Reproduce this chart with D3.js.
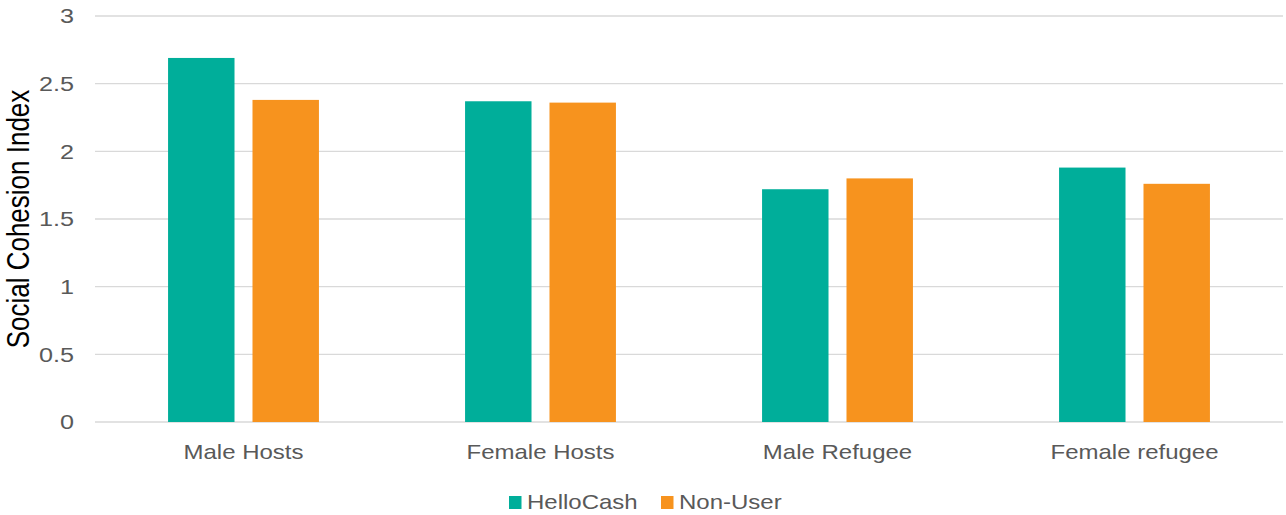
<!DOCTYPE html>
<html>
<head>
<meta charset="utf-8">
<script src="https://cdn.jsdelivr.net/npm/d3@7"></script>
<style>
  body { margin: 0; background: #fff; }
  svg text { font-family: "Liberation Sans", Arial, sans-serif; }
</style>
</head>
<body>
<div id="chart"></div>
<script>
// Chart data
const categories = ["Male Hosts", "Female Hosts", "Male Refugee", "Female refugee"];
const seriesNames = ["HelloCash", "Non-User"];
const helloCash = [2.69, 2.37, 1.72, 1.88];
const nonUser = [2.38, 2.36, 1.80, 1.76];
const yTicks = [0, 0.5, 1, 1.5, 2, 2.5, 3];
const colors = ["#00AE9A", "#F7931E"];

// Set dimensions and margins
const totalWidth = 1286, totalHeight = 515;
const margin = { top: 16, right: 3, bottom: 93, left: 95 };
const width = totalWidth - margin.left - margin.right;
const height = totalHeight - margin.top - margin.bottom;
const stretch = 1.2; // text in the original is drawn a bit wider than tall

const svg = d3.select("#chart")
  .append("svg")
    .attr("width", totalWidth)
    .attr("height", totalHeight)
  .append("g")
    .attr("transform", `translate(${margin.left},${margin.top})`);

// Scales
const x0 = d3.scaleBand().domain(categories).range([0, width]).padding(0);
const groupW = x0.bandwidth() * 0.508;
const x1 = d3.scaleBand().domain(seriesNames)
  .range([(x0.bandwidth() - groupW) / 2, (x0.bandwidth() + groupW) / 2])
  .paddingInner(0.213);
const y = d3.scaleLinear().domain([0, 3]).range([height, 0]);
const color = d3.scaleOrdinal().domain(seriesNames).range(colors);

// Gridlines
svg.append("g")
  .selectAll("line")
  .data(yTicks)
  .enter().append("line")
    .attr("x1", 0)
    .attr("x2", width)
    .attr("y1", d => y(d))
    .attr("y2", d => y(d))
    .attr("stroke", "#d9d9d9")
    .attr("stroke-width", 1.3);

// Y axis labels
const yAxis = svg.append("g")
  .call(d3.axisLeft(y).tickValues(yTicks).tickSize(0).tickFormat(d3.format("")));
yAxis.select(".domain").remove();
yAxis.selectAll("text")
  .attr("x", 0)
  .attr("transform", `translate(-21,0) scale(${stretch},1)`)
  .style("font-size", "21px")
  .attr("fill", "#595959");

// Bars
const rows = categories.map((c, i) => ({ category: c, values: [helloCash[i], nonUser[i]] }));
svg.append("g")
  .selectAll("g")
  .data(rows)
  .enter().append("g")
    .attr("transform", d => `translate(${x0(d.category)},0)`)
  .selectAll("rect")
  .data(d => seriesNames.map((s, i) => ({ series: s, value: d.values[i] })))
  .enter().append("rect")
    .attr("x", d => x1(d.series))
    .attr("y", d => y(d.value))
    .attr("width", x1.bandwidth())
    .attr("height", d => y(0) - y(d.value))
    .attr("fill", d => color(d.series));

// X axis labels
const xAxis = svg.append("g")
  .attr("transform", `translate(0,${height})`)
  .call(d3.axisBottom(x0).tickSize(0).tickPadding(23));
xAxis.select(".domain").remove();
xAxis.selectAll("text")
  .attr("transform", `scale(${stretch},1)`)
  .style("font-size", "20px")
  .attr("fill", "#595959");

// Y axis title
svg.append("text")
  .attr("transform", `translate(${18 - margin.left},${height / 2}) scale(${stretch},1) rotate(-90)`)
  .attr("text-anchor", "middle")
  .attr("dominant-baseline", "central")
  .style("font-size", "26px")
  .attr("fill", "#000")
  .text("Social Cohesion Index");

// Legend
const legendX = [509, 661];
const legend = svg.append("g")
  .attr("transform", `translate(${-margin.left},${-margin.top})`);
seriesNames.forEach((s, i) => {
  legend.append("rect")
    .attr("x", legendX[i])
    .attr("y", 496)
    .attr("width", 12.5)
    .attr("height", 13)
    .attr("fill", color(s));
  legend.append("text")
    .attr("transform", `translate(${legendX[i] + 18},509) scale(${stretch},1)`)
    .style("font-size", "20px")
    .attr("fill", "#595959")
    .text(s);
});
</script>
</body>
</html>
